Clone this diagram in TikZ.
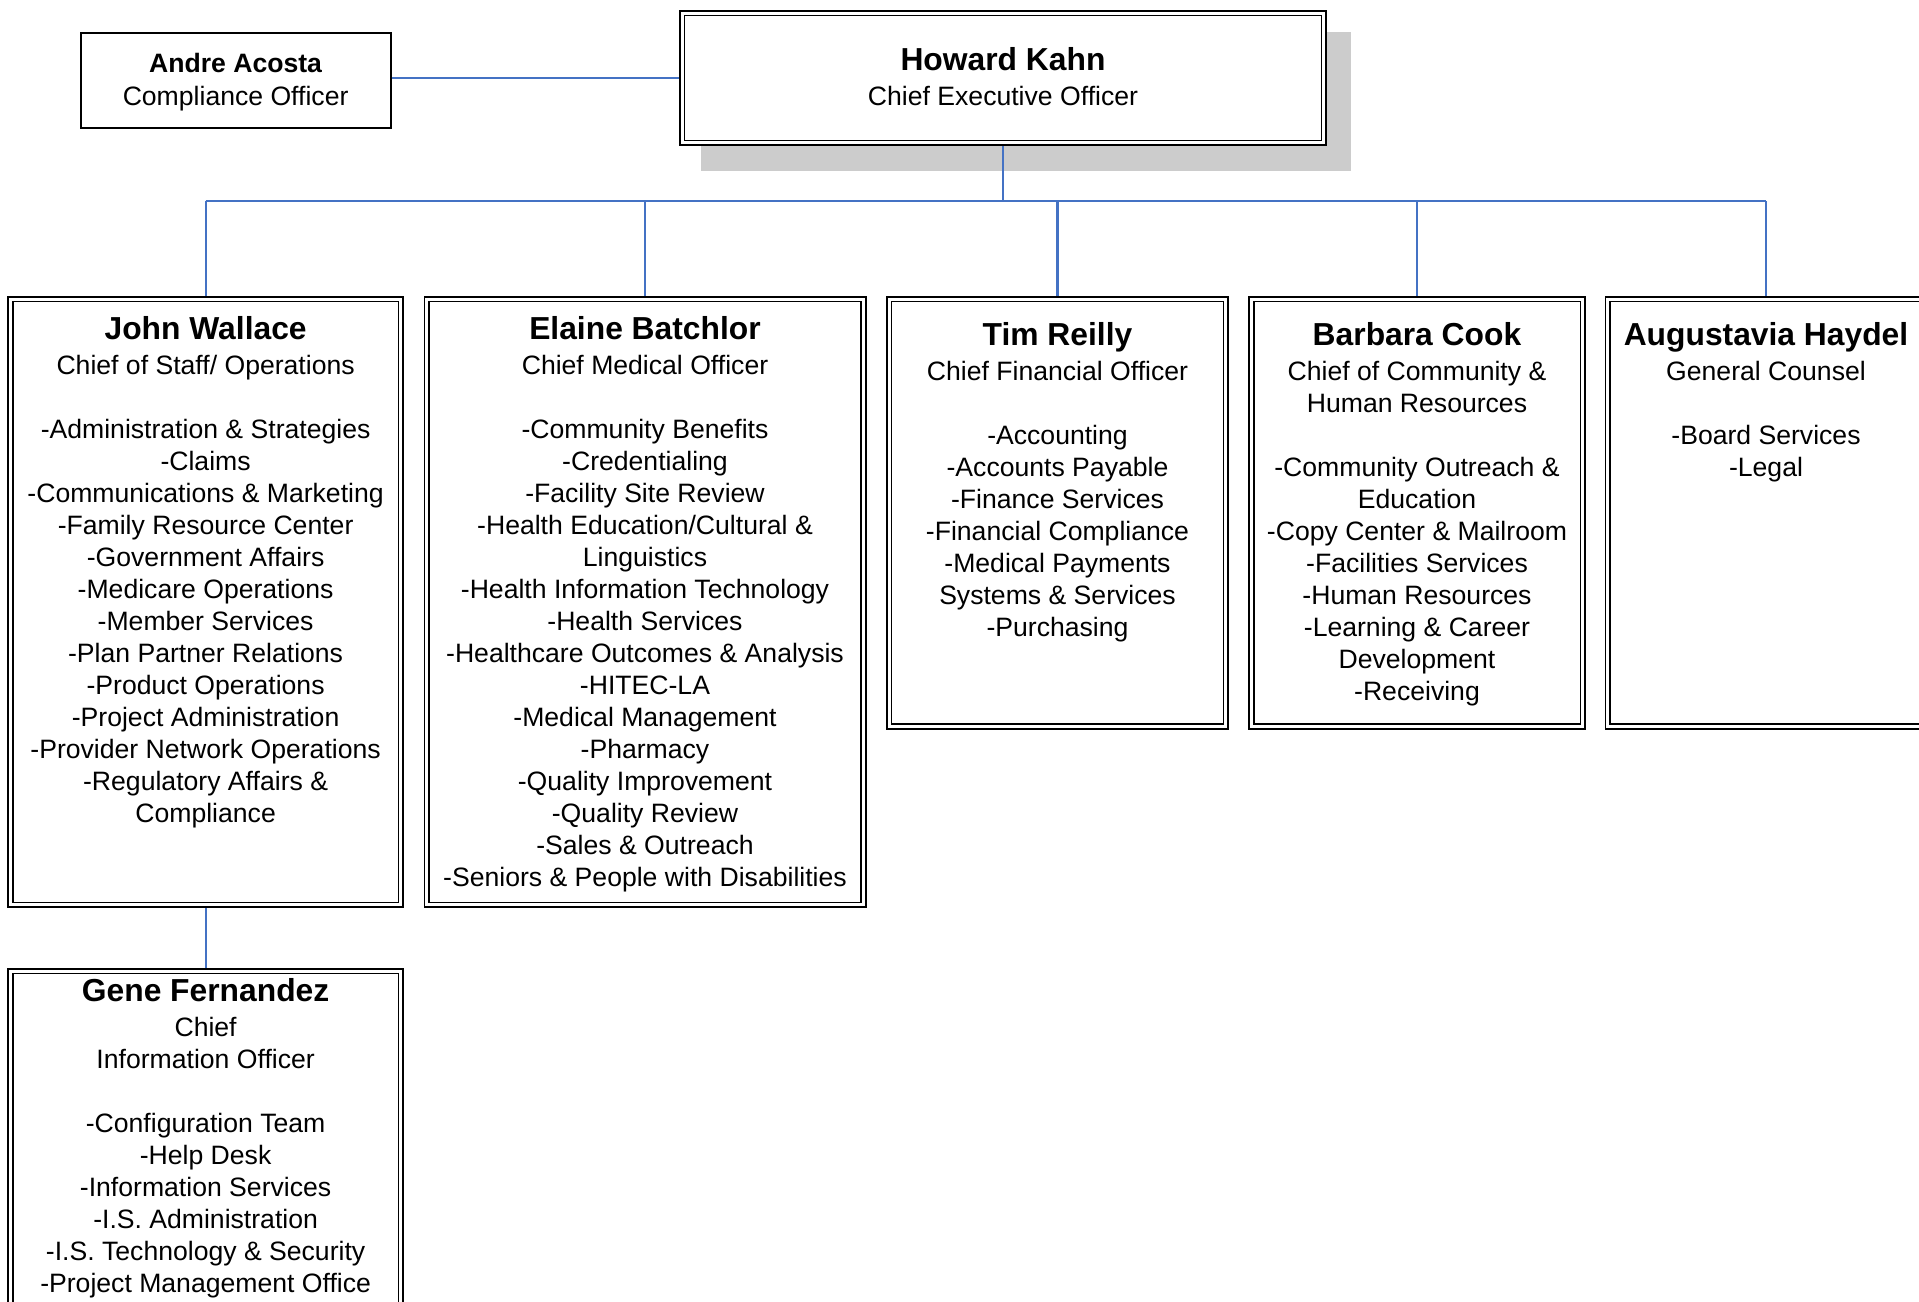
\documentclass[tikz,border=0pt]{standalone}
\usepackage{fontspec}
\setmainfont{Liberation Sans}
\newcommand\bodyfnt{\fontsize{13.3pt}{16pt}\selectfont}
\newcommand\namefnt{\fontsize{15.9pt}{16pt}\selectfont\bfseries}
\newcommand\smallnamefnt{\fontsize{13.3pt}{16pt}\selectfont\bfseries}
\newcommand\firstline{\rule{0pt}{12pt}}
\definecolor{connblue}{HTML}{4472C4}
\definecolor{shadowgray}{HTML}{CCCCCC}
\begin{document}
\begin{tikzpicture}[x=0.5pt,y=-0.5pt,
  dbox/.style={draw=black, double=white, line width=0.8pt, double distance=1.6pt,
               fill=white, inner sep=0pt, outer sep=1.6pt},
  sbox/.style={draw=black, line width=1pt, fill=white, inner sep=0pt, outer sep=0.5pt},
  txt/.style={font=\bodyfnt, align=center, inner sep=0pt, anchor=north, text=black},
  conn/.style={draw=connblue, line width=1.1pt}]
\useasboundingbox (0,0) rectangle (1919,1302);
\clip (0,0) rectangle (1919,1302);
\fill[white] (0,0) rectangle (1919,1302);

% shadow of CEO box
\fill[shadowgray] (701,32) rectangle (1351,171);

% boxes: centre lines
\newcommand\pbox[6]{\node[#1, minimum width={(#5-#3)*0.5pt}, minimum height={(#6-#4)*0.5pt}] (#2) at ({(#3+#5)/2},{(#4+#6)/2}) {};}
\pbox{dbox}{ceo}{682.2}{13.2}{1323.8}{142.8}
\pbox{sbox}{andre}{80.6}{33.3}{390.6}{128}
\pbox{dbox}{john}{10.5}{299.2}{400.7}{904.8}
\pbox{dbox}{elaine}{426.7}{299.2}{863.3}{904.8}
\pbox{dbox}{tim}{889.2}{299.2}{1225.8}{726.3}
\pbox{dbox}{barbara}{1251.6}{299.2}{1582.8}{726.3}
\pbox{dbox}{aug}{1607.7}{299.2}{1924.3}{726.3}
\pbox{dbox}{gene}{10.5}{971.2}{400.7}{1312}

% connectors
\coordinate (bus) at (0,201);
\draw[conn] (ceo.south) -- (ceo.south |- bus);
\draw[conn] (john.north |- bus) -- (aug.north |- bus);
\foreach \n in {john,elaine,tim,barbara,aug}
  \draw[conn] (\n.north |- bus) -- (\n.north);
\draw[conn] (ceo.west -| andre.east) -- (ceo.west);
\draw[conn] (john.south) -- (gene.north);

% texts
\node[txt] (tceo) at (1003,46) {\firstline{\namefnt Howard Kahn}\\[1.5pt]Chief Executive Officer};
\node[txt] (tandre) at (235.6,48.5) {\firstline{\smallnamefnt Andre Acosta}\\[0.5pt]Compliance Officer};
\node[txt] (tjohn) at (205.6,314.8) {\firstline{\namefnt John Wallace}\\[1.5pt]Chief of Staff/ Operations\\[16pt]
-Administration \& Strategies\\-Claims\\-Communications \& Marketing\\-Family Resource Center\\
-Government Affairs\\-Medicare Operations\\-Member Services\\-Plan Partner Relations\\
-Product Operations\\-Project Administration\\-Provider Network Operations\\-Regulatory Affairs \&\\Compliance};
\node[txt] (telaine) at (645,314.8) {\firstline{\namefnt Elaine Batchlor}\\[1.5pt]Chief Medical Officer\\[16pt]
-Community Benefits\\-Credentialing\\-Facility Site Review\\-Health Education/Cultural \&\\Linguistics\\
-Health Information Technology\\-Health Services\\-Healthcare Outcomes \& Analysis\\-HITEC-LA\\
-Medical Management\\-Pharmacy\\-Quality Improvement\\-Quality Review\\-Sales \& Outreach\\
-Seniors \& People with Disabilities};
\node[txt] (ttim) at (1057.5,320.8) {\firstline{\namefnt Tim Reilly}\\[1.5pt]Chief Financial Officer\\[16pt]
-Accounting\\-Accounts Payable\\-Finance Services\\-Financial Compliance\\-Medical Payments\\
Systems \& Services\\-Purchasing};
\node[txt] (tbarbara) at (1417,320.8) {\firstline{\namefnt Barbara Cook}\\[1.5pt]Chief of Community \&\\Human Resources\\[16pt]
-Community Outreach \&\\Education\\-Copy Center \& Mailroom\\-Facilities Services\\-Human Resources\\
-Learning \& Career\\Development\\-Receiving};
\node[txt] (taug) at (1766,320.8) {\firstline{\namefnt Augustavia Haydel}\\[1.5pt]General Counsel\\[16pt]
-Board Services\\-Legal};
\node[txt] (tgene) at (205.6,977) {\firstline{\namefnt Gene Fernandez}\\[1.5pt]Chief\\Information Officer\\[16pt]
-Configuration Team\\-Help Desk\\-Information Services\\-I.S. Administration\\
-I.S. Technology \& Security\\-Project Management Office};
\end{tikzpicture}
\end{document}
